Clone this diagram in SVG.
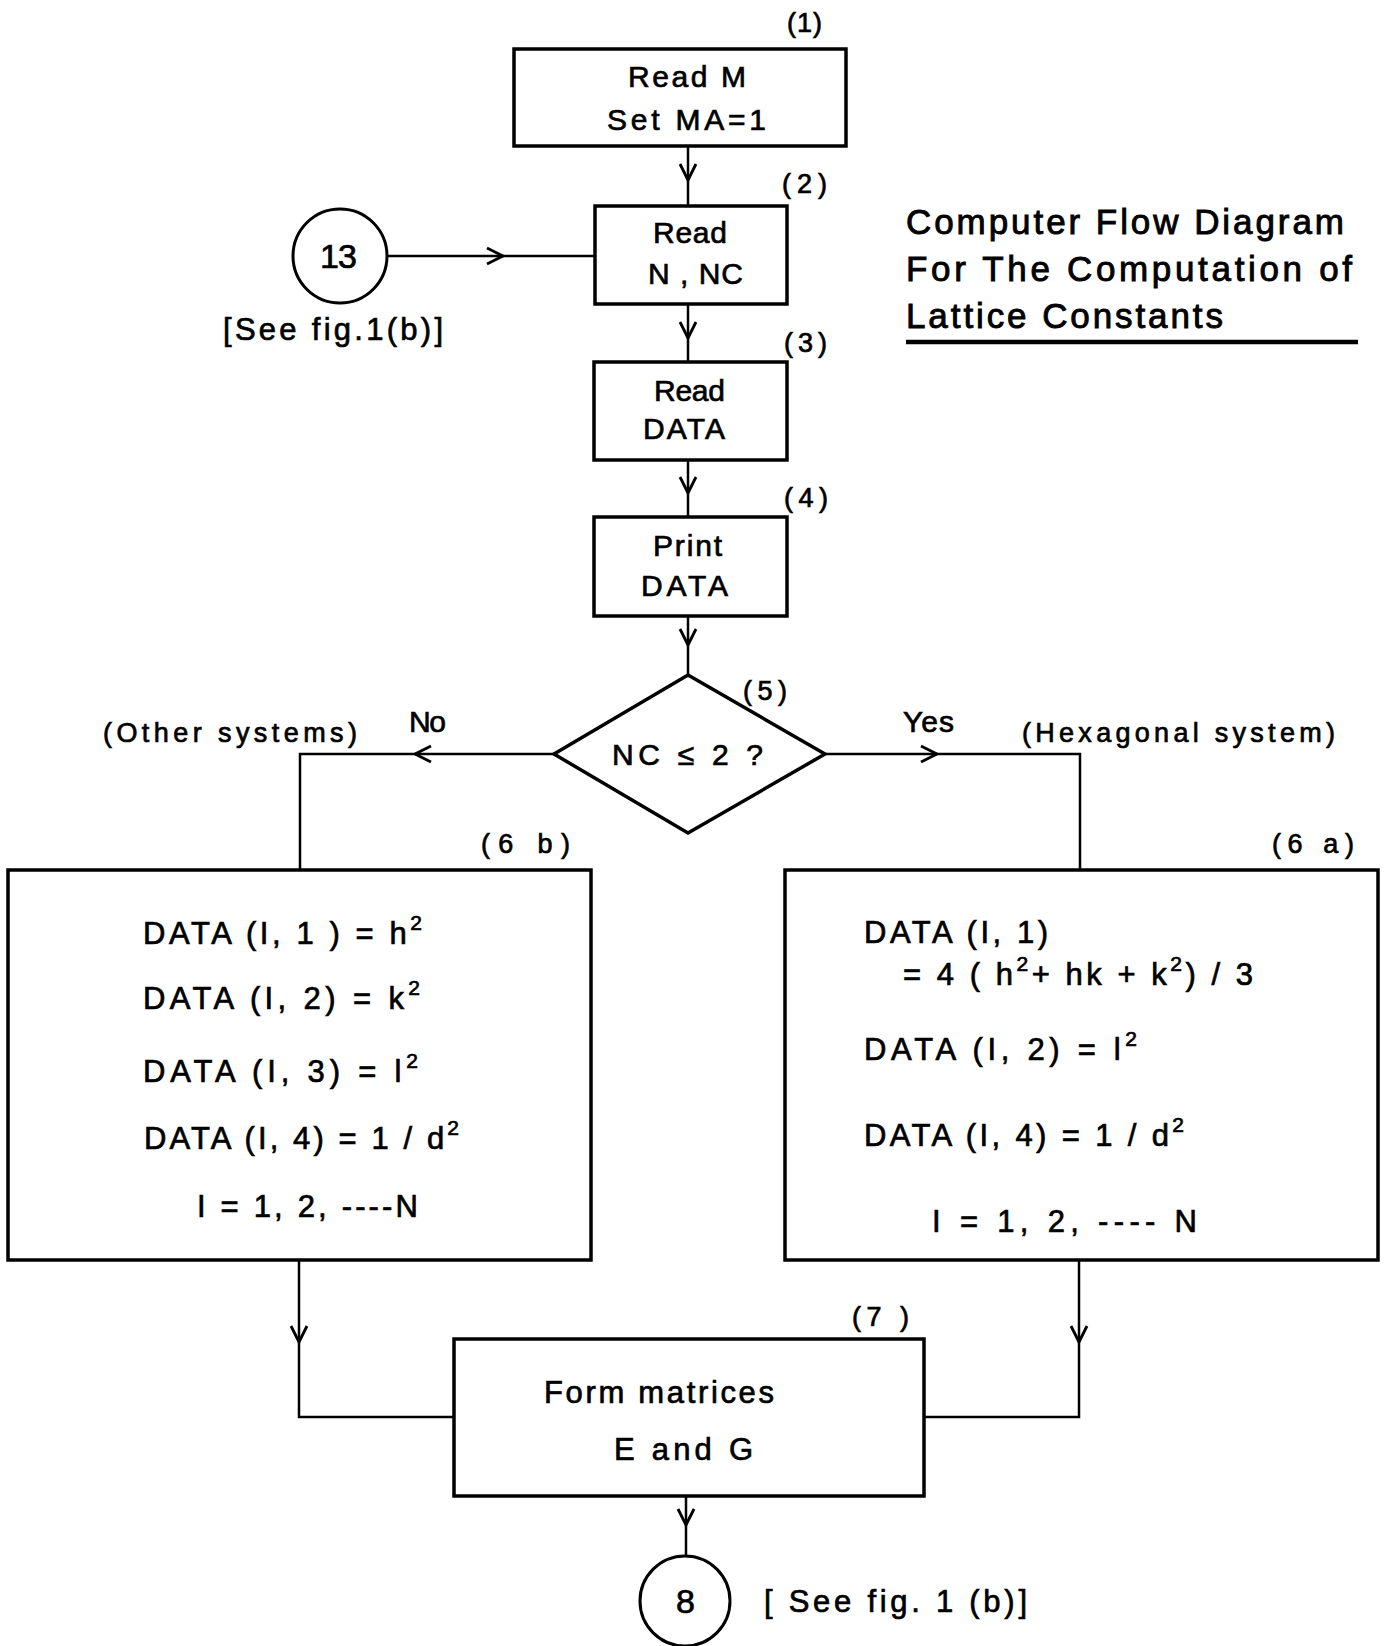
<svg xmlns="http://www.w3.org/2000/svg" xmlns:xlink="http://www.w3.org/1999/xlink" width="1388" height="1646" viewBox="0 0 1388 1646">
<style>
.box{fill:#fff;stroke:#000;stroke-width:3.5}
.conn{fill:none;stroke:#000;stroke-width:2.5}
.chev{fill:none;stroke:#000;stroke-width:2.8;stroke-linejoin:miter}
text{font-family:"Liberation Sans",Arial,sans-serif;fill:#000;stroke:#000;stroke-width:0.7}
.t{font-size:30px}
.lbl{font-size:27px}
.big{font-size:31px}
.sup{font-size:21px}
.ttl{font-size:35px;stroke-width:0.9}
</style>
<defs>
<path id="chev" class="chev" d="M-8,-16 L0,0 L8,-16"/>
</defs>
<rect x="0" y="0" width="1388" height="1646" fill="#fff"/>

<g id="connectors">
<path class="conn" d="M688,146 L688,206"/>
<use xlink:href="#chev" transform="translate(688,180)"/>
<path class="conn" d="M688,304 L688,362"/>
<use xlink:href="#chev" transform="translate(688,338)"/>
<path class="conn" d="M688,460 L688,517"/>
<use xlink:href="#chev" transform="translate(688,493)"/>
<path class="conn" d="M688,616 L688,675"/>
<use xlink:href="#chev" transform="translate(688,645)"/>
<path class="conn" d="M387,256 L595,256"/>
<use xlink:href="#chev" transform="translate(503,256) rotate(-90)"/>
<path class="conn" d="M554,754 L300,754 L300,870"/>
<use xlink:href="#chev" transform="translate(415,754) rotate(90)"/>
<path class="conn" d="M825,754 L1080,754 L1080,870"/>
<use xlink:href="#chev" transform="translate(937,754) rotate(-90)"/>
<path class="conn" d="M299,1260 L299,1417 L454,1417"/>
<use xlink:href="#chev" transform="translate(299,1342)"/>
<path class="conn" d="M1079,1260 L1079,1417 L924,1417"/>
<use xlink:href="#chev" transform="translate(1079,1342)"/>
<path class="conn" d="M686,1496 L686,1556"/>
<use xlink:href="#chev" transform="translate(686,1525)"/>
</g>

<g id="title">
<text class="ttl" x="906" y="234" textLength="438" lengthAdjust="spacing">Computer Flow Diagram</text>
<text class="ttl" x="906" y="281" textLength="446" lengthAdjust="spacing">For The Computation of</text>
<text class="ttl" x="906" y="328" textLength="317" lengthAdjust="spacing">Lattice Constants</text>
<line x1="906" y1="342" x2="1358" y2="342" stroke="#000" stroke-width="4.5"/>
</g>

<g id="n1">
<rect class="box" x="514" y="49" width="332" height="97"/>
<text class="t" x="628" y="87" textLength="118" lengthAdjust="spacing">Read M</text>
<text class="t" x="607" y="130" textLength="159" lengthAdjust="spacing">Set MA=1</text>
<text class="lbl" x="787" y="32" textLength="35" lengthAdjust="spacing">(1)</text>
</g>

<g id="c13">
<circle cx="340" cy="256" r="47" fill="#fff" stroke="#000" stroke-width="3"/>
<text x="320" y="268" style="font-size:34px" textLength="37" lengthAdjust="spacing">13</text>
<text class="big" x="223" y="340" textLength="220" lengthAdjust="spacing">[See fig.1(b)]</text>
</g>

<g id="n2">
<rect class="box" x="595" y="206" width="192" height="98"/>
<text class="t" x="653" y="243" textLength="74" lengthAdjust="spacing">Read</text>
<text class="t" x="648" y="284" textLength="95" lengthAdjust="spacing">N , NC</text>
<text class="lbl" x="782" y="193" textLength="45" lengthAdjust="spacing">(2)</text>
</g>

<g id="n3">
<rect class="box" x="594" y="362" width="193" height="98"/>
<text class="t" x="654" y="401" textLength="71" lengthAdjust="spacing">Read</text>
<text class="t" x="643" y="439" textLength="82" lengthAdjust="spacing">DATA</text>
<text class="lbl" x="784" y="352" textLength="43" lengthAdjust="spacing">(3)</text>
</g>

<g id="n4">
<rect class="box" x="594" y="517" width="193" height="99"/>
<text class="t" x="653" y="556" textLength="69" lengthAdjust="spacing">Print</text>
<text class="t" x="641" y="596" textLength="87" lengthAdjust="spacing">DATA</text>
<text class="lbl" x="784" y="507" textLength="44" lengthAdjust="spacing">(4)</text>
</g>

<g id="n5">
<polygon points="688,675 825,754 688,833 554,754" fill="#fff" stroke="#000" stroke-width="3.5"/>
<text class="t" x="612" y="765" textLength="151" lengthAdjust="spacing">NC ≤ 2 ?</text>
<text class="lbl" x="743" y="700" textLength="44" lengthAdjust="spacing">(5)</text>
<text class="t" x="409" y="732" textLength="37" lengthAdjust="spacing">No</text>
<text class="lbl" x="103" y="742" textLength="254" lengthAdjust="spacing">(Other systems)</text>
<text class="t" x="903" y="732" textLength="51" lengthAdjust="spacing">Yes</text>
<text class="lbl" x="1022" y="742" textLength="313" lengthAdjust="spacing">(Hexagonal system)</text>
</g>

<g id="n6b">
<rect class="box" x="8" y="870" width="583" height="390"/>
<text class="lbl" x="481" y="853" textLength="89" lengthAdjust="spacing">(6 b)</text>
<text class="big" x="143" y="944" textLength="279" lengthAdjust="spacing">DATA (I, 1 ) = h<tspan class="sup" dy="-14">2</tspan></text>
<text class="big" x="143" y="1009" textLength="277" lengthAdjust="spacing">DATA (I, 2) = k<tspan class="sup" dy="-14">2</tspan></text>
<text class="big" x="143" y="1082" textLength="275" lengthAdjust="spacing">DATA (I, 3) = l<tspan class="sup" dy="-14">2</tspan></text>
<text class="big" x="144" y="1149" textLength="315" lengthAdjust="spacing">DATA (I, 4) = 1 / d<tspan class="sup" dy="-14">2</tspan></text>
<text class="big" x="197" y="1217" textLength="221" lengthAdjust="spacing">I = 1, 2, ----N</text>
</g>

<g id="n6a">
<rect class="box" x="785" y="870" width="593" height="390"/>
<text class="lbl" x="1272" y="853" textLength="82" lengthAdjust="spacing">(6 a)</text>
<text class="big" x="864" y="943" textLength="184" lengthAdjust="spacing">DATA (I, 1)</text>
<text class="big" x="903" y="985" textLength="350" lengthAdjust="spacing">= 4 ( h<tspan class="sup" dy="-14">2</tspan><tspan dy="14">+ hk + k</tspan><tspan class="sup" dy="-14">2</tspan><tspan dy="14">) / 3</tspan></text>
<text class="big" x="864" y="1060" textLength="273" lengthAdjust="spacing">DATA (I, 2) = l<tspan class="sup" dy="-14">2</tspan></text>
<text class="big" x="864" y="1146" textLength="320" lengthAdjust="spacing">DATA (I, 4) = 1 / d<tspan class="sup" dy="-14">2</tspan></text>
<text class="big" x="932" y="1232" textLength="265" lengthAdjust="spacing">I = 1, 2, ---- N</text>
</g>

<g id="n7">
<rect class="box" x="454" y="1339" width="470" height="157"/>
<text class="lbl" x="852" y="1326" textLength="57" lengthAdjust="spacing">(7 )</text>
<text class="big" x="544" y="1403" textLength="230" lengthAdjust="spacing">Form matrices</text>
<text class="big" x="614" y="1460" textLength="139" lengthAdjust="spacing">E and G</text>
</g>

<g id="c8">
<circle cx="685" cy="1601" r="45" fill="#fff" stroke="#000" stroke-width="3"/>
<text x="676" y="1613" style="font-size:34px" textLength="19" lengthAdjust="spacing">8</text>
<text class="big" x="764" y="1612" textLength="263" lengthAdjust="spacing">[ See fig. 1 (b)]</text>
</g>
</svg>
